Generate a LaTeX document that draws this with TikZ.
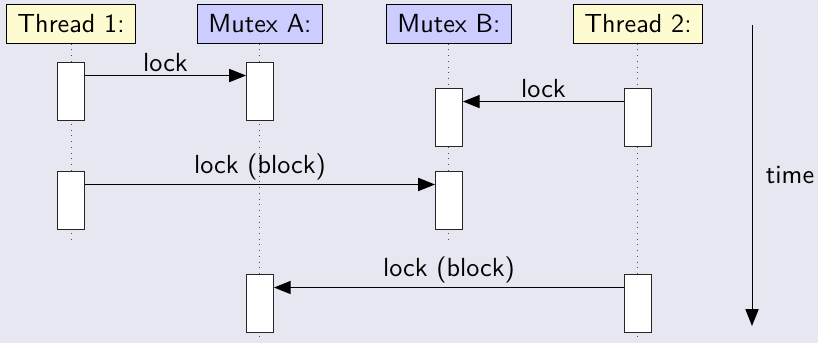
\documentclass[tikz,border=0pt,11pt]{standalone}
\usepackage{xcolor}
\usepackage{tikz}
\usetikzlibrary{arrows.meta, positioning}
\renewcommand{\familydefault}{\sfdefault}

\definecolor{bgcol}{RGB}{231,231,241}
\definecolor{thrcol}{RGB}{255,251,208}
\definecolor{mtxcol}{RGB}{204,204,255}

\begin{document}
\begin{tikzpicture}[node distance=2.777cm, on grid, >={Triangle[length=7pt,width=5.5pt]},
        head/.style={draw, inner xsep=4.5pt, minimum height=0.56cm},
        act/.style={draw=black!85, fill=white, minimum width=0.397cm, minimum height=0.852cm, inner sep=0pt},
        life/.style={dotted, black!70},
        msg/.style={->},
        lbl/.style={above, inner sep=1.5pt}]
        \path[use as bounding box, fill=bgcol] (0,0) rectangle (12.02,-5.04);

        % lifeline heads
        \node[head, fill=thrcol] (t1) at (1.043,-0.353) {Thread 1:};
        \node[head, fill=mtxcol] (ma) [right=of t1] {Mutex A:};
        \node[head, fill=mtxcol] (mb) [right=of ma] {Mutex B:};
        \node[head, fill=thrcol] (t2) [right=of mb] {Thread 2:};

        \coordinate[below=3.22 of t1] (t1end);
        \coordinate[below=4.64 of ma] (maend);
        \coordinate[below=3.22 of mb] (mbend);
        \coordinate[below=4.64 of t2] (t2end);

        \draw[life] (t1) -- (t1end);
        \draw[life] (ma) -- (maend);
        \draw[life] (mb) -- (mbend);
        \draw[life] (t2) -- (t2end);

        % activations
        \node[act] (t1a1) [below=0.985 of t1] {};
        \node[act] (maa1) [below=0.985 of ma] {};
        \node[act] (mba1) [below=1.367 of mb] {};
        \node[act] (t2a1) [below=1.367 of t2] {};
        \node[act] (t1a2) [below=2.586 of t1] {};
        \node[act] (mba2) [below=2.586 of mb] {};
        \node[act] (maa2) [below=4.1 of ma] {};
        \node[act] (t2a2) [below=4.1 of t2] {};

        % messages
        \draw[msg] (t1a1.48) -- node[lbl] {lock} (t1a1.48 -| maa1.west);
        \draw[msg] (t2a1.132) -- node[lbl] {lock} (t2a1.132 -| mba1.east);
        \draw[msg] (t1a2.48) -- node[lbl] {lock (block)} (t1a2.48 -| mba2.west);
        \draw[msg] (t2a2.132) -- node[lbl] {lock (block)} (t2a2.132 -| maa2.east);

        % time axis
        \coordinate (tstart) at (11.05,-0.367);
        \coordinate (tend) at (11.05,-4.79);
        \draw[->] (tstart) -- node[right, xshift=2pt] {time} (tend);
\end{tikzpicture}
\end{document}
